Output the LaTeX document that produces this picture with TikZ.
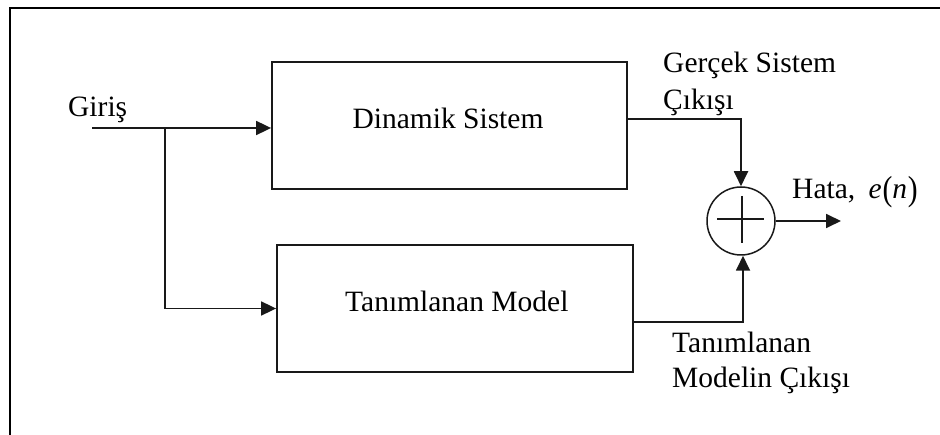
\documentclass[tikz,border=0pt]{standalone}
\usepackage{fontspec}
\setmainfont{Liberation Serif}
\usetikzlibrary{arrows.meta}
\newcommand{\tallparen}[1]{\raisebox{-0.06em}{\scalebox{1}[1.18]{#1}}}
\begin{document}
\begin{tikzpicture}[x=1pt,y=-1pt,
  every node/.style={font=\fontsize{29.5}{36}\selectfont, inner sep=0pt},
  block/.style={draw=black!90, line width=1.8pt, minimum width=355pt, minimum height=127pt},
  summer/.style={circle, draw=black!90, line width=1.5pt, minimum size=68pt},
  wire/.style={draw=black!90, line width=1.8pt},
  flow/.style={wire, -{Triangle[length=15pt,width=14pt]}},
  lbl/.style={anchor=base west}]
  \useasboundingbox (0,0) rectangle (940,435);
  % outer frame (left and top edges only)
  \draw[line width=2.6pt] (10,435) -- (10,8) -- (940,8);

  % blocks
  \node[block] (sys) at (449.5,125.5) {};
  \node[anchor=base] (sysl) at (448,129) {Dinamik Sistem};
  \node[block, minimum width=356pt] (mdl) at (455,308.5) {};
  \node[lbl] (mdll) at (345,312) {Tanımlanan Model};

  % summing junction
  \node[summer] (sum) at (741,221) {};
  \draw[line width=1.5pt, draw=black!90] (717,219) -- (764,219) (742,196) -- (742,243);

  % input branch
  \coordinate (in) at (92,128);
  \coordinate (split) at (165,128);
  \draw[flow] (in) -- (sys.west |- in);
  \draw[flow] (split) |- (mdl.west);

  % outputs into the summer
  \draw[flow] ([yshift=6.5pt]sys.east) -| (sum.north);
  \draw[flow] ([yshift=-13.5pt]mdl.east) -| ([xshift=2pt]sum.south);

  % error output
  \coordinate (err) at (841,221);
  \draw[flow] (sum.east) -- (err);

  % labels
  \node[lbl] (giris) at (68,117) {Giriş};
  \node[lbl] (gs1) at (663,73) {Gerçek Sistem};
  \node[lbl] (gs2) at (663,110) {Çıkışı};
  \node[lbl] (tm1) at (672,353) {Tanımlanan};
  \node[lbl] (tm2) at (672,388) {Modelin Çıkışı};
  \node[lbl] (hata) at (792,199) {Hata,\hspace{0.45em}\textit{e}\hspace{0.03em}\tallparen{(}\textit{n}\hspace{0.03em}\tallparen{)}};
\end{tikzpicture}
\end{document}
